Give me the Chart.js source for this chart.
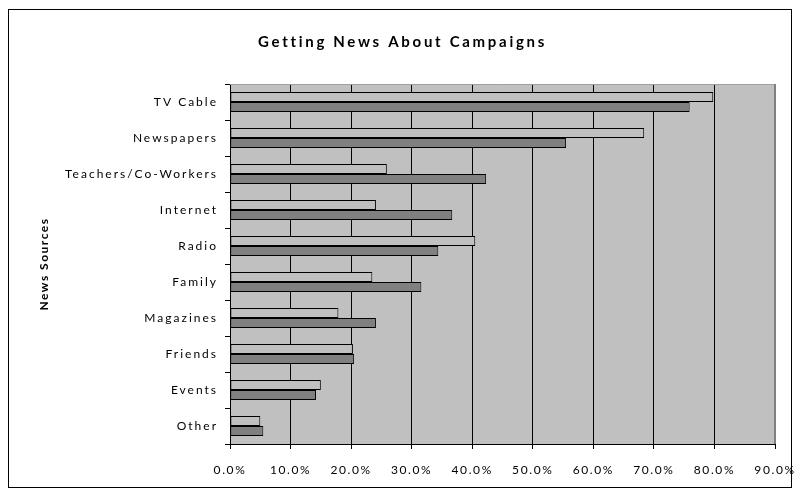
<!DOCTYPE html>
<html>
<head>
<meta charset="utf-8">
<script src="https://cdn.jsdelivr.net/npm/chart.js@4.4.1/dist/chart.umd.min.js"></script>
<style>
  html, body { margin: 0; padding: 0; background: #fff; }
  #wrap { width: 800px; height: 495px; }
</style>
</head>
<body>
<div id="wrap"><canvas id="myChart"></canvas></div>
<script>
const categories = ['TV Cable', 'Newspapers', 'Teachers/Co-Workers', 'Internet', 'Radio', 'Family', 'Magazines', 'Friends', 'Events', 'Other'];
const lightSeries = [79.8, 68.4, 25.9, 24.1, 40.5, 23.5, 17.9, 20.3, 15.0, 5.0];
const darkSeries = [75.9, 55.5, 42.3, 36.7, 34.4, 31.6, 24.1, 20.5, 14.2, 5.5];
const xMin = 0;
const xMax = 90;
const xStep = 10;

const FONT = 'Lato';

// run a draw method with a given canvas letter spacing
function spaced(obj, name, spacing) {
  const orig = obj[name];
  obj[name] = function (...args) {
    const c = obj.ctx;
    const prev = c.letterSpacing;
    c.letterSpacing = spacing;
    orig.apply(this, args);
    c.letterSpacing = prev;
  };
}

// white page, outer frame, grey plot area, letter spacing
const framePlugin = {
  id: 'frame',
  afterLayout(chart) {
    if (chart._spacedDone) return;
    chart._spacedDone = true;
    spaced(chart.titleBlock, 'draw', '2.7px');
    spaced(chart.scales.y, 'drawLabels', '2px');
    spaced(chart.scales.y, 'drawTitle', '1.5px');
    spaced(chart.scales.x, 'drawLabels', '1.6px');
  },
  beforeDraw(chart) {
    const { ctx, chartArea: a } = chart;
    ctx.save();
    ctx.fillStyle = '#fff';
    ctx.fillRect(0, 0, chart.width, chart.height);
    ctx.strokeStyle = '#000';
    ctx.lineWidth = 1;
    ctx.strokeRect(8.5, 9.5, 783, 478);
    ctx.fillStyle = '#c0c0c0';
    ctx.fillRect(a.left, a.top, a.right - a.left, a.bottom - a.top);
    ctx.restore();
  },
  afterDatasetsDraw(chart) {
    const { ctx, chartArea: a } = chart;
    ctx.save();
    ctx.strokeStyle = '#a0a0a0';
    ctx.lineWidth = 1;
    ctx.beginPath();
    ctx.moveTo(a.left, a.top + 0.5);
    ctx.lineTo(a.right, a.top + 0.5);
    ctx.stroke();
    ctx.strokeStyle = '#808080';
    ctx.lineWidth = 2;
    ctx.beginPath();
    ctx.moveTo(a.right, a.top);
    ctx.lineTo(a.right, a.bottom);
    ctx.stroke();
    ctx.restore();
  }
};

const ctx = document.getElementById('myChart').getContext('2d');

const data = {
  labels: categories,
  datasets: [{
    label: 'Series 1',
    data: lightSeries,
    backgroundColor: '#c0c0c0',
    borderColor: '#000',
    borderWidth: 1,
    borderSkipped: false
  }, {
    label: 'Series 2',
    data: darkSeries,
    backgroundColor: '#808080',
    borderColor: '#000',
    borderWidth: 1,
    borderSkipped: false
  }]
};

const config = {
  type: 'bar',
  data: data,
  options: {
    indexAxis: 'y',
    responsive: true,
    maintainAspectRatio: false,
    animation: false,
    barPercentage: 1,
    categoryPercentage: 0.556,
    layout: {
      padding: { left: 30, right: 25, top: 0, bottom: 0 }
    },
    scales: {
      x: {
        min: xMin,
        max: xMax,
        afterFit: (s) => {
          s.height = 51;
          s.paddingLeft = 0;
          s.paddingRight = 0;
        },
        grid: {
          color: '#000',
          lineWidth: 1,
          tickLength: 5
        },
        border: { color: '#000' },
        ticks: {
          stepSize: xStep,
          color: '#000',
          padding: 14,
          maxRotation: 0,
          font: { family: FONT, size: 12 },
          callback: (value) => value.toFixed(1) + '%'
        }
      },
      y: {
        afterFit: (s) => { s.width = 200; },
        grid: {
          drawOnChartArea: false,
          color: '#000',
          tickLength: 5
        },
        border: { color: '#000' },
        ticks: {
          color: '#000',
          padding: 7,
          font: { family: FONT, size: 12 }
        },
        title: {
          display: true,
          text: 'News Sources',
          color: '#000',
          padding: { top: 7, bottom: 0 },
          font: { family: FONT, size: 12, weight: 'bold' }
        }
      }
    },
    plugins: {
      legend: { display: false },
      tooltip: { enabled: false },
      title: {
        display: true,
        text: 'Getting News About Campaigns',
        color: '#000',
        padding: { top: 33, bottom: 33 },
        font: { family: FONT, size: 15, weight: 'bold' }
      }
    }
  },
  plugins: [framePlugin]
};

const myChart = new Chart(ctx, config);
</script>
</body>
</html>
